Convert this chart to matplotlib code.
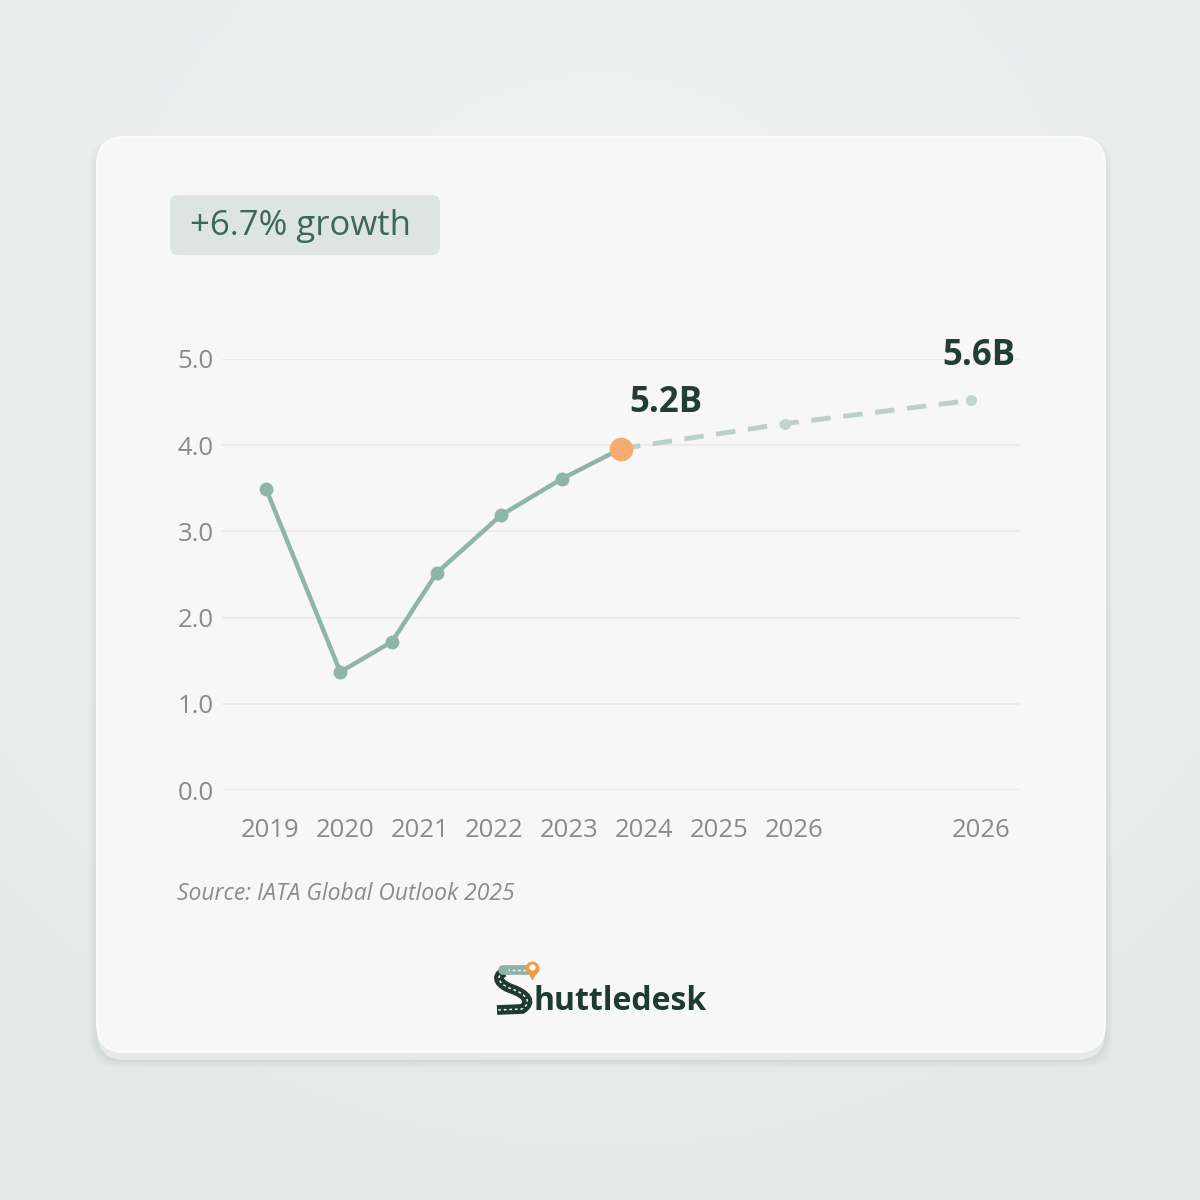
import matplotlib.pyplot as plt
import numpy as np
from matplotlib.patches import FancyBboxPatch
from matplotlib.path import Path
from matplotlib.patches import PathPatch

plt.rcParams['font.family'] = ['Open Sans', 'DejaVu Sans']

# data
tick_labels = ["2019", "2020", "2021", "2022", "2023", "2024", "2025", "2026", "2026"]
tick_pos = [0, 1, 2, 3, 4, 5, 6, 7, 9.5]
actual_x = [-0.05, 0.94, 1.63, 2.23, 3.09, 3.90, 4.69]
actual_y = [3.49, 1.37, 1.72, 2.52, 3.19, 3.61, 3.96]
forecast_x = [4.69, 6.88, 9.36]
forecast_y = [3.96, 4.25, 4.52]
y_ticks = [0.0, 1.0, 2.0, 3.0, 4.0, 5.0]
label_now = "5.2B"
label_end = "5.6B"
badge_text = "+6.7% growth"
source_text = "Source: IATA Global Outlook 2025"

W = H = 1200
fig = plt.figure(figsize=(12, 12), dpi=100)

# background gradient
bg = fig.add_axes([0, 0, 1, 1])
yy, xx = np.mgrid[0:H, 0:W]
r = np.sqrt(((xx - 600) / 900) ** 2 + ((yy - 350) / 900) ** 2)
base = np.array([0.955, 0.960, 0.958])
edge = np.array([0.895, 0.912, 0.908])
t = np.clip(r, 0, 1)[..., None]
img = base * (1 - t) + edge * t
bg.imshow(img, extent=[0, W, H, 0], aspect='auto')
bg.set_xlim(0, W)
bg.set_ylim(H, 0)
bg.axis('off')

# card shadow
for i, a in enumerate([0.05, 0.05, 0.06, 0.08]):
    grow = 14 - i * 4
    bg.add_patch(FancyBboxPatch((97 - grow / 2, 145 - grow / 2), 1008 + grow, 915 + grow,
                                boxstyle="round,pad=0,rounding_size=30",
                                fc='#8a9a95', ec='none', alpha=a))
bg.add_patch(FancyBboxPatch((97, 145), 1008, 915, boxstyle="round,pad=0,rounding_size=28",
                            fc='#e6e9e8', ec='none'))
bg.add_patch(FancyBboxPatch((97, 137), 1008, 915, boxstyle="round,pad=0,rounding_size=28",
                            fc='#f7f7f7', ec='#fbfbfb', lw=1.5))

# badge
bg.add_patch(FancyBboxPatch((170, 195), 270, 60, boxstyle="round,pad=0,rounding_size=8",
                            fc='#dde5e2', ec='none'))
bg.text(301, 226, badge_text, fontsize=25, color='#3f665d', ha='center', va='center')

# source
bg.text(177, 894, source_text, fontsize=16.5, color='#8c8c8c', style='italic',
        ha='left', va='center')

# logo: road-shaped S + pin
bg.plot([531, 503], [970, 970], color='#8fb3a6', lw=7, solid_capstyle='round')
bg.plot([526, 508], [970, 970], color='white', lw=1, ls=(0, (2, 2)))
s_verts = [(504, 972), (494, 977), (500, 985), (512, 989),
           (526, 994), (533, 1002), (522, 1009), (497, 1010)]
s_codes = [Path.MOVETO, Path.CURVE4, Path.CURVE4, Path.CURVE4,
           Path.CURVE4, Path.CURVE4, Path.CURVE4, Path.LINETO]
s_path = Path(s_verts, s_codes)
bg.add_patch(PathPatch(s_path, fc='none', ec='#1f3a32', lw=7, capstyle='butt'))
bg.add_patch(PathPatch(s_path, fc='none', ec='white', lw=1, ls=(0, (2, 2))))
bg.plot([532], [968], marker='o', ms=9, color='#f29a4a')
bg.plot([532], [975], marker='v', ms=6, color='#f29a4a')
bg.plot([532], [967], marker='o', ms=3.5, color='white')
bg.text(534, 1001, "huttledesk", fontsize=23, fontweight='bold', color='#1f3a32',
        ha='left', va='center')

# chart axes
ax = fig.add_axes([222 / W, 1 - 790 / H, (1020 - 222) / W, (790 - 359) / H])
ax.patch.set_alpha(0)
ax.set_xlim(-0.64, 10.02)
ax.set_ylim(0, 5)
for s in ax.spines.values():
    s.set_visible(False)
ax.set_yticks(y_ticks)
ax.set_yticklabels([f"{v:.1f}" for v in y_ticks])
ax.set_xticks(tick_pos)
ax.set_xticklabels(tick_labels)
ax.tick_params(axis='both', length=0, labelsize=18.5, labelcolor='#8a8a8a')
ax.tick_params(axis='x', pad=20)
ax.tick_params(axis='y', pad=6)
ax.grid(axis='y', color='#e9e9e9', lw=1.2)
ax.set_axisbelow(True)

ax.plot(forecast_x, forecast_y, color='#bccfc9', lw=3.5, ls=(0, (4, 2.6)),
        marker='o', ms=8, mfc='#c3d3ce', mec='none', clip_on=False, zorder=2)
ax.plot(actual_x, actual_y, color='#8fb5aa', lw=3.2, marker='o', ms=10,
        mfc='#8fb5aa', mec='none', clip_on=False, zorder=3)
ax.plot(actual_x[-1], actual_y[-1], marker='o', ms=17, color='#f4ab6d', mec='none',
        clip_on=False, zorder=4)

ax.annotate(label_now, (actual_x[-1], actual_y[-1]), xytext=(32, 33),
            textcoords='offset points', ha='center', va='center', fontsize=25,
            fontweight='bold', color='#243c36')
ax.annotate(label_end, (forecast_x[-1], forecast_y[-1]), xytext=(6, 32),
            textcoords='offset points', ha='center', va='center', fontsize=25,
            fontweight='bold', color='#243c36')

fig.savefig("out.png", dpi=100)
